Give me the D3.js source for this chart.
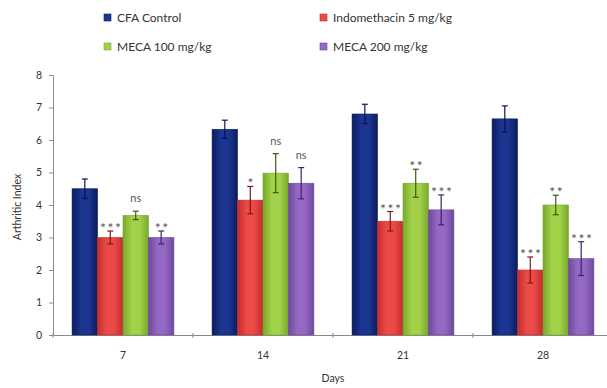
<!DOCTYPE html>
<html>
<head>
<meta charset="utf-8">
<script src="https://cdn.jsdelivr.net/npm/d3@7"></script>
<style>
  body { margin: 0; background: #fff; overflow: hidden; }
  text { font-family: Lato, "Open Sans", sans-serif; }
</style>
</head>
<body>
<svg id="chart" width="607" height="388"></svg>
<script>
// chart data
const days = ["7", "14", "21", "28"];
const groups = ["CFA Control", "Indomethacin 5 mg/kg", "MECA 100 mg/kg", "MECA 200 mg/kg"];
const cfaValues = [4.5, 6.33, 6.8, 6.65];
const indoValues = [3.0, 4.15, 3.5, 2.0];
const meca100Values = [3.68, 4.98, 4.67, 4.0];
const meca200Values = [3.0, 4.67, 3.85, 2.35];
const cfaErr = [0.3, 0.28, 0.3, 0.4];
const indoErr = [0.2, 0.42, 0.3, 0.4];
const meca100Err = [0.13, 0.6, 0.43, 0.3];
const meca200Err = [0.2, 0.48, 0.46, 0.52];
const cfaSig = ["", "", "", ""];
const indoSig = ["***", "*", "***", "***"];
const meca100Sig = ["ns", "ns", "**", "**"];
const meca200Sig = ["**", "ns", "***", "***"];
const yTicks = [0, 1, 2, 3, 4, 5, 6, 7, 8];

const values = [cfaValues, indoValues, meca100Values, meca200Values];
const errors = [cfaErr, indoErr, meca100Err, meca200Err];
const sigs = [cfaSig, indoSig, meca100Sig, meca200Sig];

const colors = [
  { mid: "#1b3591", edge: "#0b1c5e", dark: "#0a1550" },
  { mid: "#ec4a47", edge: "#c22d2d", dark: "#7a1a1a" },
  { mid: "#a3d24a", edge: "#78a82c", dark: "#3d5a12" },
  { mid: "#9468c4", edge: "#6c4a9a", dark: "#3e2566" }
];

const svg = d3.select("#chart");
const defs = svg.append("defs");

colors.forEach((c, i) => {
  const g = defs.append("linearGradient").attr("id", "grad" + i)
    .attr("x1", "0%").attr("x2", "100%").attr("y1", "0%").attr("y2", "0%");
  g.append("stop").attr("offset", "0%").attr("stop-color", c.edge);
  g.append("stop").attr("offset", "35%").attr("stop-color", c.mid);
  g.append("stop").attr("offset", "65%").attr("stop-color", c.mid);
  g.append("stop").attr("offset", "100%").attr("stop-color", c.edge);
});

// plot area runs past the right edge, as in the cropped original
const plotLeft = 53, plotRight = 613, plotTop = 75, plotBottom = 335;

const x = d3.scaleBand().domain(days).range([plotLeft, plotRight]).paddingInner(0).paddingOuter(0);
const inner = d3.scaleBand().domain(d3.range(groups.length))
  .range([0, x.bandwidth()]).paddingOuter(0.75).paddingInner(0);
const y = d3.scaleLinear().domain([0, 8]).range([plotBottom, plotTop]);

// y axis
const yAxis = svg.append("g").attr("transform", `translate(${plotLeft},0)`)
  .call(d3.axisLeft(y).tickValues(yTicks).tickSize(4).tickPadding(7));
yAxis.select(".domain").attr("stroke", "#8a8a8a");
yAxis.selectAll(".tick line").attr("stroke", "#8a8a8a");
yAxis.selectAll(".tick text").attr("font-size", 10.5).attr("fill", "#333");

// x axis
const xAxis = svg.append("g").attr("transform", `translate(0,${plotBottom})`)
  .call(d3.axisBottom(x).tickSize(0).tickPadding(17));
xAxis.select(".domain").attr("stroke", "#8a8a8a");
xAxis.selectAll(".tick text").attr("font-size", 10.5).attr("fill", "#333");
xAxis.selectAll(".bound").data(days.map(d => x(d)))
  .enter().append("line").attr("class", "bound")
  .attr("x1", d => d).attr("x2", d => d).attr("y1", -2).attr("y2", 3)
  .attr("stroke", "#8a8a8a");

// bars
const barG = svg.append("g");
days.forEach((day, di) => {
  groups.forEach((grp, gi) => {
    const v = values[gi][di];
    const e = errors[gi][di];
    const bx = x(day) + inner(gi);
    const bw = inner.bandwidth();
    barG.append("rect")
      .attr("x", bx).attr("y", y(v))
      .attr("width", bw).attr("height", y(0) - y(v))
      .attr("fill", `url(#grad${gi})`)
      .attr("stroke", colors[gi].edge).attr("stroke-width", 0.6);
    // error bar
    const cx = bx + bw / 2;
    barG.append("line")
      .attr("x1", cx).attr("x2", cx).attr("y1", y(v - e)).attr("y2", y(v + e))
      .attr("stroke", colors[gi].dark).attr("stroke-width", 1.2);
    [v - e, v + e].forEach(t => {
      barG.append("line")
        .attr("x1", cx - 3).attr("x2", cx + 3).attr("y1", y(t)).attr("y2", y(t))
        .attr("stroke", colors[gi].dark).attr("stroke-width", 1.2);
    });
    const s = sigs[gi][di];
    if (s) {
      const isStar = s.indexOf("*") >= 0;
      barG.append("text")
        .attr("x", cx + (isStar ? 1 : 0)).attr("y", y(v + e) + (isStar ? 2 : -9))
        .attr("text-anchor", "middle")
        .attr("font-size", isStar ? 14 : 11)
        .attr("letter-spacing", isStar ? 1.5 : 0)
        .attr("fill", "#555")
        .text(s);
    }
  });
});

// axis titles
svg.append("text")
  .attr("transform", `translate(21,207) rotate(-90)`)
  .attr("text-anchor", "middle").attr("font-size", 10.5).attr("fill", "#333")
  .text("Arthritic Index");
svg.append("text")
  .attr("x", (plotLeft + plotRight) / 2).attr("y", 382)
  .attr("text-anchor", "middle").attr("font-size", 10.5).attr("fill", "#333")
  .text("Days");

// legend
const legendX = [104, 320];
const legendY = [18, 47];
groups.forEach((grp, gi) => {
  const lx = legendX[gi % 2], ly = legendY[Math.floor(gi / 2)];
  svg.append("rect").attr("x", lx).attr("y", ly - 4).attr("width", 7).attr("height", 7)
    .attr("fill", colors[gi].mid).attr("stroke", colors[gi].edge).attr("stroke-width", 0.6);
  svg.append("text").attr("x", lx + 13).attr("y", ly + 4)
    .attr("font-size", 12).attr("fill", "#333").text(grp);
});
</script>
</body>
</html>
